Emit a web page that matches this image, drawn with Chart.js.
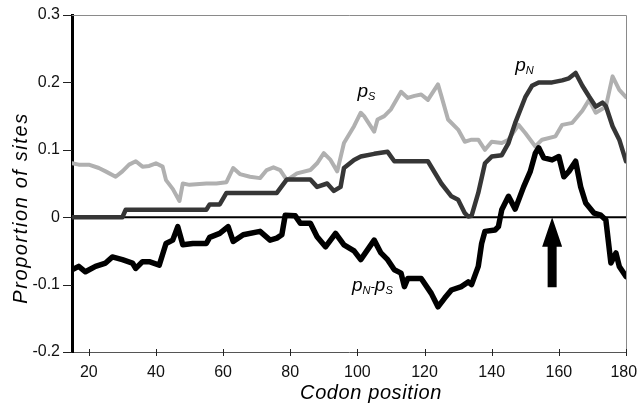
<!DOCTYPE html>
<html>
<head>
<meta charset="utf-8">
<script src="https://cdn.jsdelivr.net/npm/chart.js@4.4.1/dist/chart.umd.min.js"></script>
<style>
    html, body { margin: 0; padding: 0; background: #fff; }
</style>
</head>
<body>
<canvas id="chart" width="637" height="405"></canvas>
<script>
// p_S (synonymous) - light grey line
let psCodon = [15, 17, 20, 23, 25, 28, 30, 32, 34, 36, 38, 40, 42, 43, 45, 47, 48, 50, 55, 58,
    61, 63, 65, 68, 71, 73, 75, 77, 79, 82, 86, 88, 90, 92, 94, 96, 99, 101, 102, 105,
    106, 108, 110, 113, 115, 117, 119, 121, 124, 125, 127, 130, 132, 134, 136, 138, 140, 143, 145, 148,
    150, 153, 155, 159, 161, 164, 167, 169, 171, 174, 176, 178, 180];
let psValue = [0.08, 0.078, 0.078, 0.073, 0.068, 0.06, 0.068, 0.078, 0.083, 0.075, 0.076, 0.08, 0.075, 0.055, 0.042, 0.024, 0.05, 0.048, 0.05, 0.05,
    0.052, 0.073, 0.064, 0.06, 0.058, 0.07, 0.074, 0.07, 0.055, 0.065, 0.07, 0.08, 0.095, 0.085, 0.068, 0.11, 0.135, 0.155, 0.15, 0.127,
    0.145, 0.15, 0.16, 0.186, 0.177, 0.18, 0.182, 0.174, 0.197, 0.18, 0.145, 0.13, 0.112, 0.115, 0.115, 0.1, 0.112, 0.11, 0.115, 0.137,
    0.125, 0.105, 0.115, 0.12, 0.137, 0.14, 0.158, 0.174, 0.155, 0.164, 0.209, 0.189, 0.178];

// p_N (non-synonymous) - dark line
let pnCodon = [15, 30, 31, 55, 56, 59, 61, 76, 79, 86, 88, 91, 93, 95, 96, 99, 101, 105, 109, 111,
    121, 125, 128, 130, 132, 133, 134, 136, 138, 140, 143, 145, 147, 150, 152, 154, 158, 161, 163, 165,
    167, 169, 171, 173, 174, 176, 178, 180];
let pnValue = [0, 0, 0.011, 0.011, 0.019, 0.019, 0.036, 0.036, 0.056, 0.056, 0.045, 0.05, 0.039, 0.045, 0.073, 0.085, 0.09, 0.094, 0.097, 0.083,
    0.083, 0.05, 0.031, 0.026, 0.006, 0.001, 0.002, 0.036, 0.08, 0.09, 0.092, 0.11, 0.14, 0.178, 0.195, 0.2, 0.2, 0.203, 0.206, 0.214,
    0.195, 0.179, 0.164, 0.17, 0.165, 0.135, 0.115, 0.083];

// p_N - p_S - black line
let diffCodon = [15, 17, 19, 22, 25, 27, 30, 33, 34, 36, 38, 41, 43, 45, 46.5, 48, 51, 55, 56, 59,
    61.5, 63, 66, 71, 74, 76, 77.5, 78.5, 81.5, 83, 86, 88, 90.5, 93.5, 96, 99, 101, 105, 107, 109,
    111, 113, 114, 115, 119, 122, 124, 126, 128, 131, 133, 134, 136, 137, 138, 141, 142, 143, 145, 147,
    149.5, 151.5, 153, 154, 155.5, 158, 160, 161.5, 163, 165, 166.5, 168, 170.5, 172.5, 174, 175.5, 177, 178, 180];
let diffValue = [-0.078, -0.073, -0.081, -0.073, -0.068, -0.059, -0.063, -0.068, -0.076, -0.066, -0.066, -0.071, -0.039, -0.034, -0.014, -0.041, -0.039, -0.039, -0.03, -0.024,
    -0.014, -0.036, -0.026, -0.021, -0.034, -0.031, -0.026, 0.003, 0.002, -0.009, -0.009, -0.029, -0.044, -0.024, -0.041, -0.05, -0.063, -0.034, -0.053, -0.063,
    -0.078, -0.083, -0.103, -0.091, -0.091, -0.113, -0.133, -0.12, -0.108, -0.103, -0.096, -0.1, -0.073, -0.039, -0.021, -0.019, -0.014, 0.011, 0.031, 0.012,
    0.045, 0.068, 0.095, 0.103, 0.088, 0.085, 0.09, 0.06, 0.068, 0.083, 0.045, 0.021, 0.006, 0.003, -0.004, -0.068, -0.053, -0.073, -0.088];

let xTicks = [20, 40, 60, 80, 100, 120, 140, 160, 180];
let yTicks = [-0.2, -0.1, 0, 0.1, 0.2, 0.3];

// arrow marking codon ~158 (tip on the zero line)
let arrowCodon = 158;
let arrowTip = 0;
let arrowHeadBase = -0.044;
let arrowTail = -0.104;

const FONT = "'Liberation Sans', Arial, sans-serif";

function toPoints(xs, ys) {
    return xs.map((x, i) => ({ x: x, y: ys[i] }));
}

// series labels: text pieces [text, size, drop], anchored at codon / value baseline
let seriesLabels = [
    { x: 100, y: 0.178, parts: [["p", 19, 0], ["S", 11, 3]] },
    { x: 147, y: 0.2175, parts: [["p", 19, 0], ["N", 11, 3]] },
    { x: 98.4, y: -0.110, parts: [["p", 19, 0], ["N", 11, 3], ["-", 13, 0], ["p", 19, 0], ["S", 11, 3]] }
];

const decorations = {
    id: "decorations",
    beforeDatasetsDraw(chart) {
        let ctx = chart.ctx;
        let a = chart.chartArea;
        let y0 = chart.scales.y.getPixelForValue(0);
        ctx.save();
        // thin frame top and right
        ctx.strokeStyle = "#8a8a8a";
        ctx.lineWidth = 1;
        ctx.beginPath();
        ctx.moveTo(a.left, a.top + 0.5);
        ctx.lineTo(a.right + 0.5, a.top + 0.5);
        ctx.lineTo(a.right + 0.5, a.bottom);
        ctx.stroke();
        // zero line
        ctx.strokeStyle = "#000";
        ctx.lineWidth = 2;
        ctx.beginPath();
        ctx.moveTo(a.left, y0);
        ctx.lineTo(a.right, y0);
        ctx.stroke();
        ctx.restore();
    },
    afterDatasetsDraw(chart) {
        let ctx = chart.ctx;
        let a = chart.chartArea;
        let xs = chart.scales.x;
        let ys = chart.scales.y;
        ctx.save();

        // tick marks
        ctx.strokeStyle = "#222";
        ctx.lineWidth = 1;
        ctx.beginPath();
        yTicks.forEach(v => {
            let py = Math.round(ys.getPixelForValue(v)) + 0.5;
            ctx.moveTo(a.left - 9, py);
            ctx.lineTo(a.left, py);
        });
        xTicks.forEach(v => {
            let px = Math.round(xs.getPixelForValue(v)) + 0.5;
            ctx.moveTo(px, a.bottom - 3);
            ctx.lineTo(px, a.bottom + 4);
        });
        ctx.stroke();

        // arrow
        let ax = xs.getPixelForValue(arrowCodon);
        let tipY = ys.getPixelForValue(arrowTip);
        let headY = ys.getPixelForValue(arrowHeadBase);
        let tailY = ys.getPixelForValue(arrowTail);
        ctx.fillStyle = "#000";
        ctx.beginPath();
        ctx.moveTo(ax, tipY);
        ctx.lineTo(ax + 10, headY);
        ctx.lineTo(ax + 4.5, headY);
        ctx.lineTo(ax + 4.5, tailY);
        ctx.lineTo(ax - 4.5, tailY);
        ctx.lineTo(ax - 4.5, headY);
        ctx.lineTo(ax - 10, headY);
        ctx.closePath();
        ctx.fill();

        // series labels
        ctx.textBaseline = "alphabetic";
        ctx.textAlign = "left";
        seriesLabels.forEach(l => {
            let px = xs.getPixelForValue(l.x);
            let py = ys.getPixelForValue(l.y);
            l.parts.forEach(p => {
                ctx.font = "italic " + p[1] + "px " + FONT;
                ctx.fillText(p[0], px, py + p[2]);
                px += ctx.measureText(p[0]).width;
            });
        });

        // axis titles
        ctx.font = "italic 20px " + FONT;
        ctx.textAlign = "center";
        ctx.letterSpacing = "0.6px";
        ctx.fillText("Codon position", 371, 399);
        ctx.letterSpacing = "1.6px";
        ctx.translate(27, 208);
        ctx.rotate(-Math.PI / 2);
        ctx.fillText("Proportion of sites", 0, 0);
        ctx.restore();
    }
};

new Chart(document.getElementById("chart"), {
    type: "line",
    data: {
        datasets: [
            {
                label: "pN-pS",
                data: toPoints(diffCodon, diffValue),
                borderColor: "#000",
                borderWidth: 5.5
            },
            {
                label: "pN",
                data: toPoints(pnCodon, pnValue),
                borderColor: "#363636",
                borderWidth: 4.5
            },
            {
                label: "pS",
                data: toPoints(psCodon, psValue),
                borderColor: "#b0b0b0",
                borderWidth: 4
            }
        ]
    },
    options: {
        responsive: false,
        animation: false,
        events: [],
        layout: { padding: { top: 15, right: 11, left: 0, bottom: 0 } },
        elements: {
            point: { radius: 0 },
            line: { tension: 0, borderJoinStyle: "round", borderCapStyle: "round" }
        },
        plugins: {
            legend: { display: false },
            tooltip: { enabled: false }
        },
        scales: {
            x: {
                type: "linear",
                min: 15,
                max: 180,
                grid: { drawOnChartArea: false, drawTicks: true, tickLength: 5, color: "rgba(0,0,0,0)" },
                border: { display: true, color: "#555", width: 1 },
                ticks: {
                    color: "#111",
                    padding: 6,
                    font: { family: FONT, size: 16 },
                    // last label nudged left so it fits the canvas, like the original
                    callback: v => v === 180 ? "180 " : String(v)
                },
                afterBuildTicks: s => { s.ticks = xTicks.map(v => ({ value: v })); },
                afterFit: s => { s.height = 53; s.paddingLeft = 0; s.paddingRight = 0; }
            },
            y: {
                type: "linear",
                min: -0.2,
                max: 0.3,
                grid: { drawOnChartArea: false, drawTicks: true, tickLength: 9, color: "rgba(0,0,0,0)" },
                border: { display: true, color: "#000", width: 3 },
                ticks: {
                    color: "#111",
                    padding: 3,
                    font: { family: FONT, size: 16 },
                    callback: v => {
                        let r = Math.round(v * 10) / 10;
                        return r === 0 ? "0" : r.toFixed(1);
                    }
                },
                afterBuildTicks: s => { s.ticks = yTicks.map(v => ({ value: v })); },
                afterFit: s => { s.width = 72; }
            }
        }
    },
    plugins: [decorations]
});
</script>
</body>
</html>
